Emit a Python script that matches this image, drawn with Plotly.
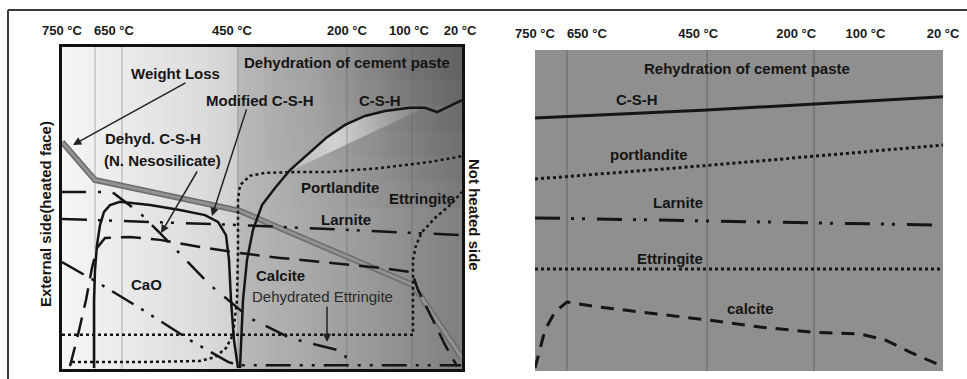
import plotly.graph_objects as go

W, H = 967, 379

# ---------------- shared temperature scale (depth positions in % of wall thickness)
temp_labels = ["750 °C", "650 °C", "450 °C", "200 °C", "100 °C", "20 °C"]

# ---------------- LEFT PANEL: dehydration (x = depth 0..100 from heated face, y = relative amount 0..100)
left_temp_pos = [0, 13, 42.5, 71.25, 86.75, 99.5]
left_isotherms = [8.25, 15, 44, 71.25, 87.5]

weight_loss_x = [0, 8.25, 44.5, 87.75, 100]
weight_loss_y = [70.5, 58.7, 49.1, 26.1, 3.5]

csh_x = [44.5, 44.75, 45.25, 46.25, 47.75, 50, 53.25, 57, 62, 66.25, 70.75, 75.75, 80.75, 87, 90.75, 93.75, 96.5, 100]
csh_y = [0.3, 9.0, 21.4, 33.9, 43.2, 50.9, 56.2, 61.8, 67.4, 72.0, 75.8, 78.6, 80.1, 81.1, 81.1, 79.8, 81.4, 83.5]

# lower edge of the light band under the C-S-H curve
csh_band_x = [57, 89.5]
csh_band_y = [61.5, 80.4]

cao_x = [8, 8, 8.25, 8.75, 9.5, 10.5, 12, 14.5, 22, 29.5, 35.75, 39, 41, 41.75, 42.25, 43, 44]
cao_y = [0.3, 21.4, 30.7, 38.5, 44.7, 48.8, 50.9, 51.9, 50.9, 49.4, 47.8, 45.7, 41.6, 33.9, 21.4, 9.0, 0.3]

portlandite_x = [2.5, 22, 34.5, 38.25, 41, 42.75, 43.75, 44, 44, 44.5, 47, 50.75, 59.5, 67, 79.5, 92, 100]
portlandite_y = [2.2, 2.2, 2.5, 3.7, 6.5, 10.6, 21.4, 37.0, 52.5, 57.1, 60.0, 60.9, 61.2, 61.2, 62.4, 64.3, 66.1]

ettringite_x = [0, 87.75, 87.75, 88.5, 90, 93.25, 97, 100]
ettringite_y = [10.6, 10.6, 33.9, 38.5, 42.5, 46.9, 50.9, 55.0]

larnite_x = [0, 44.5, 99.75]
larnite_y = [46.6, 44.7, 41.6]

dehyd_csh_x = [0, 12.5, 19.5, 24.5, 37, 47, 57, 70.75, 71.25]
dehyd_csh_y = [55.0, 55.0, 48.4, 42.2, 26.1, 15.8, 9.6, 5.3, 0.3]

modified_csh_x = [0, 8.75, 19.5, 32.75, 41.5, 44, 99.75]
modified_csh_y = [33.2, 27.0, 18.9, 8.4, 2.2, 1.2, 1.2]

calcite_x = [2, 4, 6, 7.5, 8.75, 10.75, 17, 24.5, 34.5, 44.5, 54.5, 67, 79.5, 87.5, 89, 92.5, 95.75, 98.75]
calcite_y = [0.9, 10.6, 21.4, 31.4, 37.6, 40.7, 41.0, 40.1, 37.9, 36.0, 34.5, 32.9, 31.4, 30.1, 24.5, 15.8, 7.5, 0.9]

# ---------------- RIGHT PANEL: rehydration
right_temp_pos = [0, 12.7, 40, 64, 81, 100]
right_isotherms = [7.84, 42.2, 68.4]

r_csh_x = [0, 42.2, 100]
r_csh_y = [78.8, 81.3, 85.4]

r_portlandite_x = [0, 42, 100]
r_portlandite_y = [59.8, 64.0, 70.4]

r_larnite_x = [0, 97.3]
r_larnite_y = [47.7, 45.5]

r_ettringite_x = [0, 100]
r_ettringite_y = [31.8, 31.8]

r_calcite_x = [0, 2.45, 4.9, 7.8, 15.9, 28.2, 42.2, 55.1, 68.1, 79.7, 85.8, 91.9, 98.5]
r_calcite_y = [0.9, 12.8, 18.4, 21.5, 19.9, 18.1, 15.9, 13.7, 12.1, 11.5, 9.7, 5.9, 2.2]

# ---------------------------------------------------------------------------
FONT = "Liberation Sans, Arial, sans-serif"
INK = "#151515"

fig = go.Figure()

def add(x, y, xa="x", ya="y", color=INK, width=2.5, dash="solid", **kw):
    fig.add_trace(go.Scatter(x=x, y=y, xaxis=xa, yaxis=ya, mode="lines",
                             line=dict(color=color, width=width, dash=dash),
                             hoverinfo="skip", showlegend=False, **kw))

# left background gradient
add([0, 100, 100, 0, 0], [0, 0, 100, 100, 0], width=0, color="rgba(0,0,0,0)",
    fill="toself",
    fillgradient=dict(type="horizontal", colorscale=[
        [0.0, "#f6f6f6"], [0.08, "#f0f0f0"], [0.2, "#e7e7e7"], [0.35, "#dcdcdc"],
        [0.435, "#d0d0d0"], [0.445, "#b8b8b8"], [0.6, "#aaaaaa"], [0.75, "#9b9b9b"],
        [0.88, "#8c8c8c"], [1.0, "#7f7f7f"]]))
# darker top-right region: thin stacked strips, each a faint horizontal gradient
for yb in [50, 58, 66, 74, 82, 90]:
    add([44, 100, 100, 44, 44], [yb, yb, 100, 100, yb], width=0, color="rgba(0,0,0,0)",
        fill="toself",
        fillgradient=dict(type="horizontal", colorscale=[
            [0.0, "rgba(0,0,0,0)"], [0.4, "rgba(0,0,0,0.01)"], [1.0, "rgba(0,0,0,0.045)"]]))

# light band under C-S-H curve
band_pts = [(x, y) for x, y in zip(csh_x, csh_y) if csh_band_x[0] <= x <= csh_band_x[1]]
bx = [csh_band_x[0]] + [p[0] for p in band_pts] + [csh_band_x[1], csh_band_x[0]]
by = [csh_band_y[0]] + [p[1] for p in band_pts] + [csh_band_y[1], csh_band_y[0]]
add(bx, by, width=0, color="rgba(0,0,0,0)", fill="toself",
    fillgradient=dict(type="horizontal", colorscale=[
        [0.0, "rgba(225,225,225,0.35)"], [0.35, "rgba(228,228,228,0.75)"],
        [1.0, "rgba(200,200,200,0.15)"]]))

# isotherm guide lines
gx, gy = [], []
for v in left_isotherms:
    gx += [v, v, None]; gy += [0, 100, None]
add(gx, gy, color="rgba(90,90,90,0.45)", width=1)
gx, gy = [], []
for v in right_isotherms:
    gx += [v, v, None]; gy += [0, 100, None]
add(gx, gy, "x2", "y2", color="rgba(70,70,70,0.55)", width=1)

# left curves
add(weight_loss_x, weight_loss_y, color="#6c6c6c", width=6)
add(weight_loss_x, weight_loss_y, color="#929292", width=3)
add(ettringite_x, ettringite_y, dash="3px,3px", width=2.5)
add(portlandite_x, portlandite_y, dash="3px,3px", width=2.5)
add(larnite_x, larnite_y, dash="25px,11px,3px,8px,3px,12px")
add(dehyd_csh_x, dehyd_csh_y, dash="24px,12px,3px,12px")
add(modified_csh_x, modified_csh_y, dash="25px,9px,3px,9px,3px,9px")
add(calcite_x, calcite_y, dash="20px,10px")
add(cao_x, cao_y, width=2.5)
add(csh_x, csh_y, width=2.5)

# right curves
add(r_csh_x, r_csh_y, "x2", "y2", width=3)
add(r_portlandite_x, r_portlandite_y, "x2", "y2", width=3, dash="3px,3px")
add(r_larnite_x, r_larnite_y, "x2", "y2", width=3, dash="25px,11px,3px,8px,3px,12px")
add(r_ettringite_x, r_ettringite_y, "x2", "y2", width=3, dash="3px,3px")
add(r_calcite_x, r_calcite_y, "x2", "y2", width=3, dash="13px,9px")

# ---------------------------------------------------------------------------
ann = []
def label(text, x, y, xa="x", ya="y", bold=True, xanchor="center", size=15, color=INK):
    ann.append(dict(text=f"<b>{text}</b>" if bold else text, x=x, y=y, xref=xa, yref=ya,
                    showarrow=False, xanchor=xanchor, yanchor="middle",
                    font=dict(family=FONT, size=size, color=color)))

def arrow(x, y, ax, ay):
    ann.append(dict(text="", x=x, y=y, ax=ax, ay=ay, xref="x", yref="y", axref="x", ayref="y",
                    showarrow=True, arrowhead=2, arrowsize=1.1, arrowwidth=1.5, arrowcolor="#222"))

label("Weight Loss", 28.25, 91.9)
label("Dehydration of cement paste", 71.25, 95.3)
label("Modified C-S-H", 49.25, 83.5)
label("C-S-H", 79.5, 83.5)
label("Dehyd. C-S-H", 10.25, 71.7, xanchor="left")
label("(N. Nesosilicate)", 10, 64.9, xanchor="left")
label("Portlandite", 69.5, 56.5)
label("Ettringite", 90, 52.8)
label("Larnite", 71, 46.3)
label("CaO", 21, 26.1)
label("Calcite", 54.5, 28.9)
label("Dehydrated Ettringite", 65, 22.4, bold=False, color="#2a2a2a")

arrow(2.75, 69.6, 31.25, 89.1)
arrow(24.75, 42.2, 34, 61.8)
arrow(37.5, 47.5, 46.25, 81.1)
arrow(66.25, 8.4, 66.25, 19.9)

label("Rehydration of cement paste", 52, 94.1, "x2", "y2")
label("C-S-H", 25, 84.7, "x2", "y2")
label("portlandite", 27.9, 67.3, "x2", "y2")
label("Larnite", 35, 52.6, "x2", "y2")
label("Ettringite", 33.1, 35.2, "x2", "y2")
label("calcite", 52.7, 19.6, "x2", "y2")

# side titles
ann.append(dict(text="<b>External side(heated face)</b>", x=45 / W, y=1 - 214 / H,
                xref="paper", yref="paper", showarrow=False, textangle=-90,
                xanchor="center", yanchor="middle",
                font=dict(family=FONT, size=15, color=INK)))
ann.append(dict(text="<b>Not heated side</b>", x=475 / W, y=1 - 215 / H,
                xref="paper", yref="paper", showarrow=False, textangle=90,
                xanchor="center", yanchor="middle",
                font=dict(family=FONT, size=15, color=INK)))

shapes = [
    dict(type="rect", xref="x2 domain", yref="y2 domain", x0=0, x1=1, y0=0, y1=1,
         fillcolor="#8f8f8f", line=dict(width=0), layer="below"),
    dict(type="line", xref="paper", yref="paper", x0=8 / W, x1=1, y0=1 - 10 / H, y1=1 - 10 / H,
         line=dict(color="#3c3c3c", width=2)),
    dict(type="line", xref="paper", yref="paper", x0=8 / W, x1=8 / W, y0=0, y1=1 - 10 / H,
         line=dict(color="#3c3c3c", width=2)),
]

tickfont = dict(family=FONT, size=13, color="#1a1a1a")
fig.update_layout(
    width=W, height=H, autosize=False, margin=dict(l=0, r=0, t=0, b=0, pad=0),
    paper_bgcolor="white", plot_bgcolor="rgba(0,0,0,0)",
    annotations=ann, shapes=shapes, showlegend=False,
    xaxis=dict(domain=[62 / W, 462 / W], range=[0, 100], side="top", anchor="y",
               automargin=False,
               tickmode="array", tickvals=left_temp_pos,
               ticktext=[f"<b>{t}</b>" for t in temp_labels], tickfont=tickfont,
               ticks="", ticklabelstandoff=4, showgrid=False, zeroline=False,
               showline=True, mirror=True, linecolor="#111", linewidth=2.5),
    yaxis=dict(domain=[1 - 369 / H, 1 - 47 / H], range=[0, 100], anchor="x",
               automargin=False,
               showticklabels=False, ticks="", showgrid=False, zeroline=False,
               showline=True, mirror=True, linecolor="#111", linewidth=2.5),
    xaxis2=dict(domain=[535 / W, 943 / W], range=[0, 100], side="top", anchor="y2",
                automargin=False,
                tickmode="array", tickvals=right_temp_pos,
                ticktext=[f"<b>{t}</b>" for t in temp_labels], tickfont=tickfont,
                ticks="", ticklabelstandoff=8, showgrid=False, zeroline=False, showline=False),
    yaxis2=dict(domain=[1 - 371 / H, 1 - 50 / H], range=[0, 100], anchor="x2",
                automargin=False,
                showticklabels=False, ticks="", showgrid=False, zeroline=False, showline=False),
)

fig.write_html("out.html")
